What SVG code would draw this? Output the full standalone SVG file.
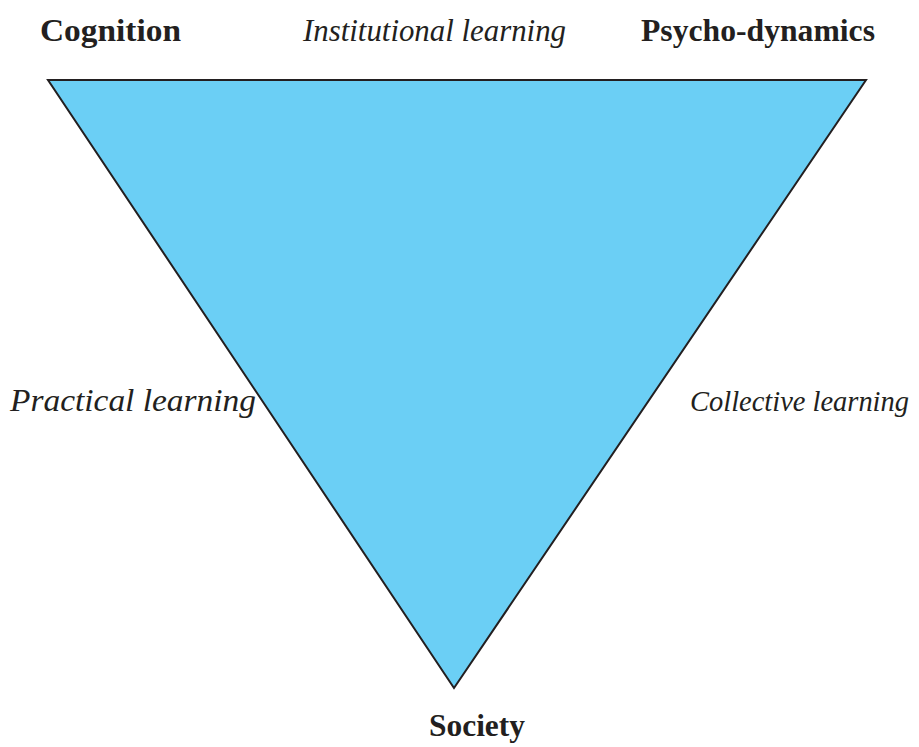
<svg xmlns="http://www.w3.org/2000/svg" width="919" height="747" viewBox="0 0 919 747">
<style>
text{font-family:'Liberation Serif','Times New Roman',Times,serif;font-size:32px;fill:#231f20}
.b{font-weight:bold}
.i{font-style:italic}
</style>
<rect width="919" height="747" fill="#fff"/>
<g id="triangle">
<polygon points="48,80 866,80 454,688" fill="#6bcff5" stroke="#231f20" stroke-width="2" stroke-linejoin="miter"/>
</g>
<g id="cognition"><text class="b" x="40" y="41" textLength="141" lengthAdjust="spacingAndGlyphs">Cognition</text></g>
<g id="institutional"><text class="i" x="303" y="41" textLength="263" lengthAdjust="spacingAndGlyphs">Institutional learning</text></g>
<g id="psycho"><text class="b" x="641" y="41" textLength="234" lengthAdjust="spacingAndGlyphs">Psycho-dynamics</text></g>
<g id="practical"><text class="i" x="10" y="411" textLength="246" lengthAdjust="spacingAndGlyphs">Practical learning</text></g>
<g id="collective"><text class="i" x="690" y="411" style="font-size:28.5px" textLength="219" lengthAdjust="spacingAndGlyphs">Collective learning</text></g>
<g id="society"><text class="b" x="429" y="736" textLength="96" lengthAdjust="spacingAndGlyphs">Society</text></g>
</svg>
